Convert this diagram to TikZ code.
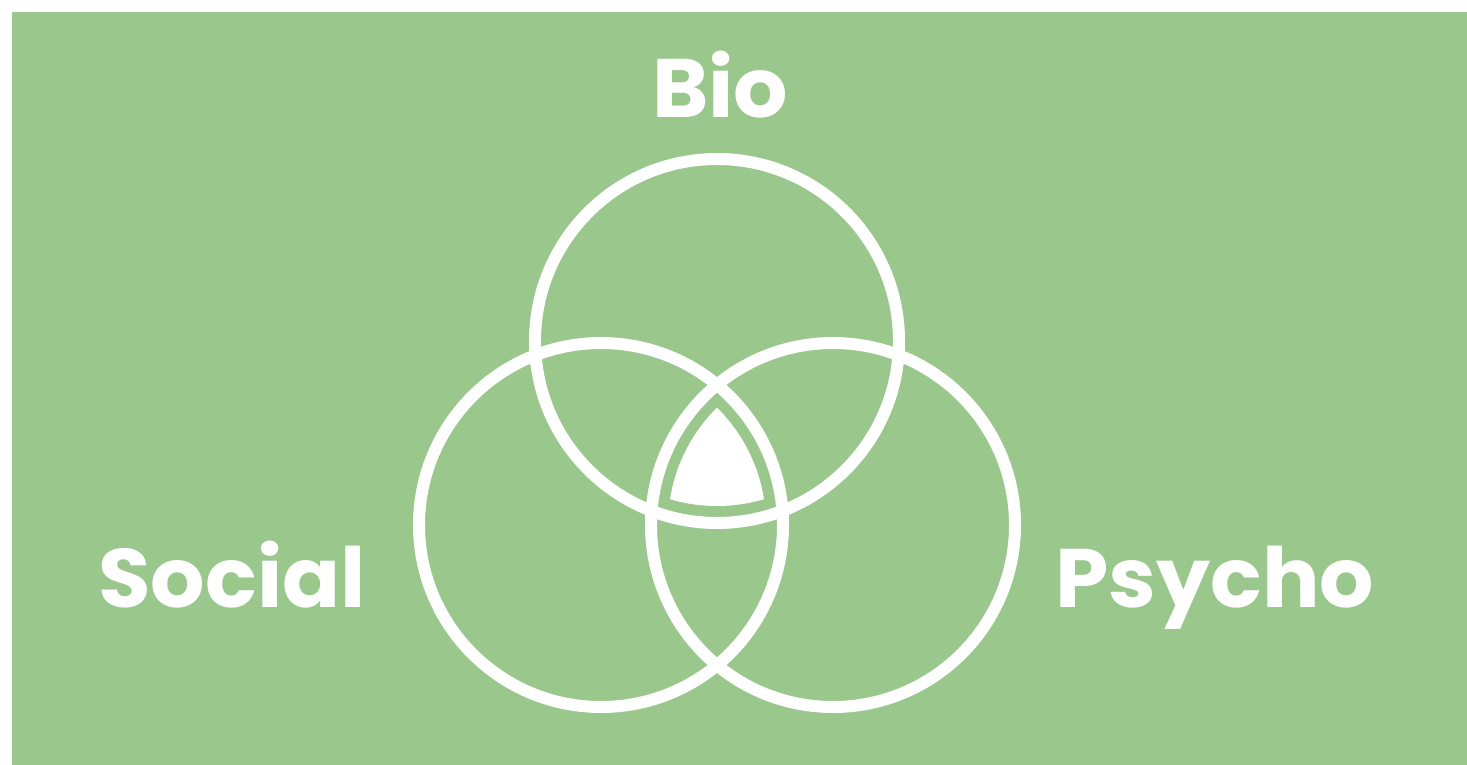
\documentclass[tikz,border=0pt]{standalone}
\usepackage{fontspec}
\newfontfamily\labfont{Poppins}[FakeStretch=1.03]
\definecolor{bggreen}{RGB}{154,199,140}
\tikzset{
  ring/.style={circle, draw=white, line width=12pt, minimum size=364pt, inner sep=0pt, outer sep=0pt},
  lab/.style={text=white, anchor=base, inner sep=0pt, font=\labfont\bfseries\fontsize{83}{90}\selectfont}
}
\begin{document}
\begin{tikzpicture}[x=1pt, y=-1pt]
\useasboundingbox[fill=white] (0,0) rectangle (1467,765);
\fill[bggreen] (12,12) rectangle (1467,765);
\coordinate (cb) at (717,341);
\coordinate (cs) at (601,525);
\coordinate (cp) at (833,525);
\begin{scope}
  \clip (cb) circle (165pt);
  \clip (cs) circle (165pt);
  \fill[white] (cp) circle (165pt);
\end{scope}
\node[ring] (bio) at (cb) {};
\node[ring] (social) at (cs) {};
\node[ring] (psycho) at (cp) {};
\node[lab] (tbio) at (720,118) {Bio};
\node[lab] (tsocial) at (232,607) {Social};
\node[lab] (tpsycho) at (1215,607) {Psycho};
\end{tikzpicture}
\end{document}
